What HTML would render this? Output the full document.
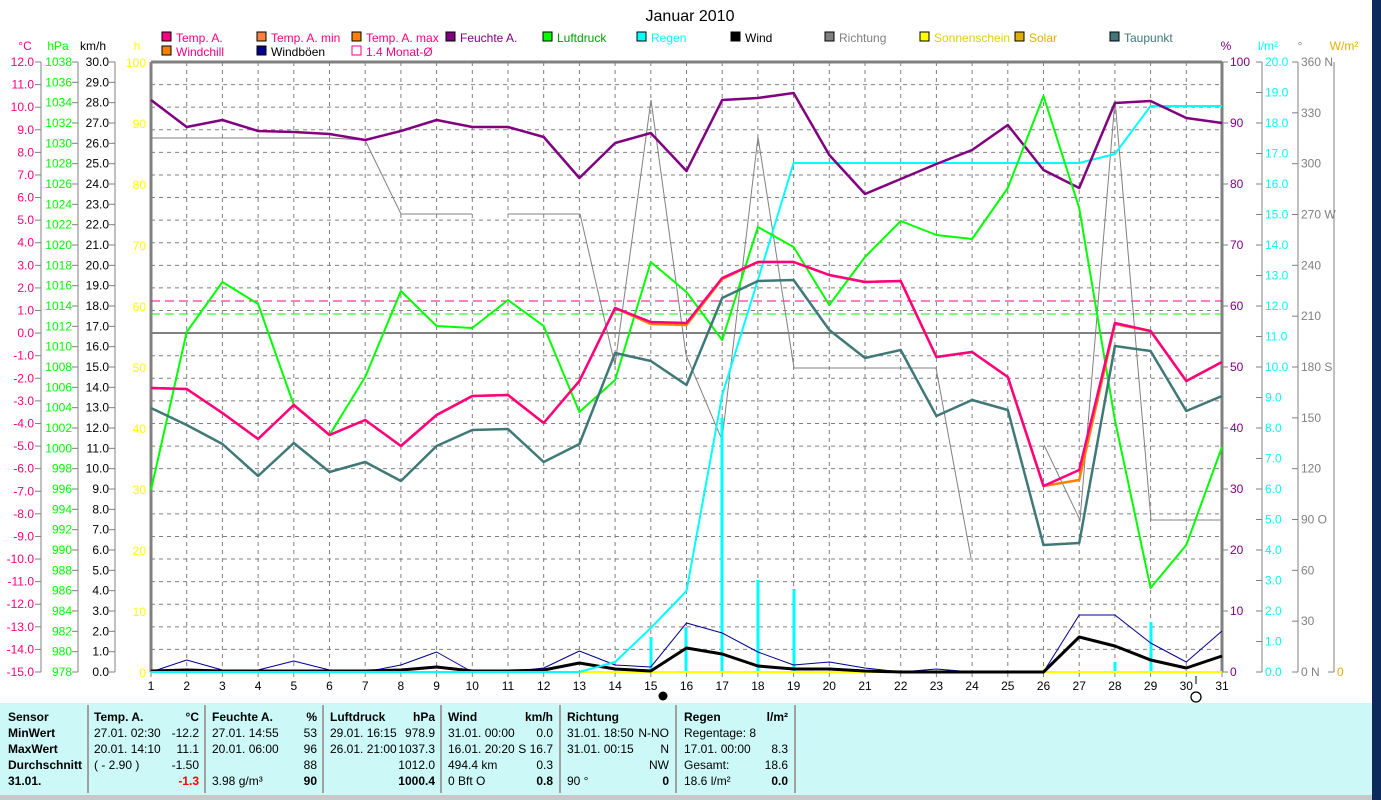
<!DOCTYPE html>
<html><head><meta charset="utf-8"><style>
html,body{margin:0;padding:0;background:#fff;width:1381px;height:800px;overflow:hidden;font-family:"Liberation Sans",sans-serif}
svg{position:absolute;left:0;top:0}
</style></head><body>
<svg id="s" width="1381" height="800" xmlns="http://www.w3.org/2000/svg" font-family="Liberation Sans, sans-serif" font-size="12"></svg>
<script>
const S=document.getElementById('s');let h='';
const X=d=>151+(d-1)*35.7;
const L=(x1,y1,x2,y2,c,w,da)=>h+=`<line x1="${x1}" y1="${y1}" x2="${x2}" y2="${y2}" stroke="${c}" stroke-width="${w||1}" ${da?`stroke-dasharray="${da}"`:''}/>`;
const T=(x,y,t,c,a,extra)=>h+=`<text x="${x}" y="${y}" fill="${c}" text-anchor="${a||'start'}" ${extra||''}>${t}</text>`;
const P=(ys,c,w)=>h+=`<polyline fill="none" stroke="${c}" stroke-width="${w}" stroke-linejoin="round" points="${ys.map((y,i)=>X(i+1)+','+y).join(' ')}"/>`;
h+=`<rect x="1372" y="0" width="9" height="800" fill="#0c2a5c"/>`;
T(690,21,'Januar 2010','#000','middle','font-size="16"');
for(let i=1;i<27;i++){let y=62+i*610/27;L(151,y,1222,y,'#808080',1,'4 4');}
for(let d=2;d<=30;d++)L(X(d),62,X(d),672,'#808080',1,'4 4');
L(151,62,1222,62,'#808080',3);L(151,62,151,672,'#808080',3);L(1222,62,1222,672,'#808080',3);
// left axes
L(41,62,41,672,'#808080');L(78,62,78,672,'#808080');L(115,62,115,672,'#808080');
T(25,50,'°C','#ff0080','middle');T(58,50,'hPa','#00ff00','middle');T(93,50,'km/h','#000','middle');T(137,50,'h','#ffff00','middle');
for(let i=0;i<=27;i++){let y=62+i*610/27;L(35,y,41,y,'#808080');T(34,y+4,(12-i).toFixed(1),'#ff0080','end');}
for(let i=0;i<=30;i++){let y=62+i*610/30;L(72,y,78,y,'#808080');T(72,y+4,1038-2*i,'#00ff00','end');
 L(109,y,115,y,'#808080');T(109,y+4,(30-i).toFixed(1),'#000','end');}
for(let i=0;i<=10;i++){let y=62+i*61;T(146,y+5,100-10*i,'#ffff00','end');}
// right axes
L(1262,62,1262,672,'#808080');L(1298,62,1298,672,'#808080');L(1334,62,1334,672,'#808080');
T(1226,50,'%','#800080','middle');T(1268,50,'l/m²','#00ffff','middle');T(1300,50,'°','#808080','middle');T(1344,50,'W/m²','#e0b000','middle');
for(let i=0;i<=10;i++){let y=62+i*61;L(1222,y,1228,y,'#808080');T(1230,y+4,100-10*i,'#800080');}
for(let i=0;i<=20;i++){let y=62+i*30.5;L(1256,y,1262,y,'#808080');T(1265,y+4,(20-i).toFixed(1),'#00ffff');}
const dn={360:'360 N',270:'270 W',180:'180 S',90:'90 O',0:'0 N'};
for(let i=0;i<=12;i++){let y=62+i*610/12,v=360-30*i;L(1292,y,1298,y,'#808080');T(1301,y+4,dn[v]||v,'#808080');}
L(1328,672,1334,672,'#808080');T(1337,676,'0','#e0b000');
for(let d=1;d<=31;d++){L(X(d),672,X(d),677,'#808080');T(X(d),690,d,'#000','middle');}
h+=`<circle cx="663" cy="696" r="4.5" fill="#000"/><circle cx="1196" cy="697" r="5" fill="none" stroke="#000" stroke-width="1.3"/>`;L(1196,676,1196,684,'#000');
// ref lines
L(151,333,1222,333,'#808080',2);
L(151,301,1222,301,'#ff0080',1,'9 5');L(151,314,1222,314,'#00ff00',1,'9 5');
// richtung
h+=`<polyline fill="none" stroke="#808080" stroke-width="1" points="151,138 330,138 365,140 401,214 472,214"/>`;
h+=`<polyline fill="none" stroke="#808080" stroke-width="1" points="508,214 580,214 615,365 651,100 686,355 722,440 758,137 794,368 936,368 971,558"/>`;
h+=`<polyline fill="none" stroke="#808080" stroke-width="1" points="1044,445 1080,520 1115,100 1151,520 1222,520"/>`;
[[651,637],[686,627],[722,418],[758,580],[794,589],[1115,662],[1151,622]].forEach(b=>L(b[0],b[1],b[0],672,'#00ffff',3));
L(151,672,1222,672,'#ffff00',2);
P([672,660,670,670,661,670,672,665,652,672,672,668,651,665,667,623,633,652,665,662,668,672,669,672,672,672,615,615,643,662,631],'#000090',1);
P([671,670,671,671,671,671,671,670,667,671,671,670,663,669,671,648,654,666,669,669,671,672,672,672,672,672,637,646,660,668,656],'#000',3);
P([672,672,672,672,672,672,672,672,672,672,672,672,672,662,628,591,395,280,163,163,163,163,163,163,163,163,163,154,106,106,106],'#00ffff',2);
P([100,127,120,131,132,134,140,131,120,127,127,137,178,143,133,171,100,98,93,155,194,179,164,150,125,170,188,103,101,118,123],'#800080',2.5);
P([490,332,282,304,405,435,377,291,326,328,300,326,412,380,262,292,340,227,247,305,257,221,235,239,188,96,208,420,588,545,447],'#00ff00',2);
P([408,425,444,476,443,472,462,481,446,430,429,462,444,353,361,385,298,281,280,330,358,350,416,400,410,545,543,346,351,411,396],'#407878',2.5);
P([388,389,413,439,405,435,420,446,415,396,395,423,381,308,324,325,279,262,262,275,282,281,357,352,377,486,480,324,331,381,362],'#ff8000',2.5);
P([388,389,413,439,405,435,420,446,415,396,395,423,381,308,322,323,278,262,262,275,282,281,357,352,377,486,470,323,331,381,362],'#ff0080',2.5);
const lg=[[162,'#ff0080','Temp. A.','#ff0080'],[257,'#ff8040','Temp. A. min','#ff0080'],[352,'#ff8000','Temp. A. max','#ff0080'],[446,'#800080','Feuchte A.','#800080'],[543,'#00ff00','Luftdruck','#00a000'],[637,'#00ffff','Regen','#00ffff'],[731,'#000','Wind','#000'],[825,'#808080','Richtung','#808080'],[920,'#ffff00','Sonnenschein','#e0d000'],[1015,'#e0b000','Solar','#e0b000'],[1110,'#407878','Taupunkt','#407878']];
lg.forEach(l=>{h+=`<rect x="${l[0]}" y="32" width="9" height="9" fill="${l[1]}" stroke="#000"/>`;T(l[0]+14,42,l[2],l[3]);});
h+=`<rect x="162" y="46" width="9" height="9" fill="#ff8000" stroke="#000"/>`;T(176,56,'Windchill','#ff0080');
h+=`<rect x="257" y="46" width="9" height="9" fill="#000090" stroke="#000"/>`;T(271,56,'Windböen','#000');
h+=`<rect x="352" y="46" width="9" height="9" fill="none" stroke="#ff0080"/>`;T(366,56,'1.4 Monat-Ø','#ff0080');
h+=`<rect x="0" y="703" width="1372" height="92" fill="#ccf8f8"/><rect x="0" y="795" width="1372" height="5" fill="#c8c8c8"/>`;
[88,205,323,441,560,676,795].forEach(x=>L(x,705,x,793,'#a0a0a0',2));
const rows=[717,733,749,765,781];
const B='font-weight="bold"';
['Sensor','MinWert','MaxWert','Durchschnitt','31.01.'].forEach((t,i)=>T(8,rows[i]+4,t,'#000','start',B));
const col=(xl,xr,L1,R1)=>{L1.forEach((t,i)=>t&&T(xl,rows[i]+4,t,'#000','start',i==0?B:''));R1.forEach((t,i)=>t&&T(xr,rows[i]+4,t,i==4&&xl==94?'#ff0000':'#000','end',(i==0||i==4)?B:''));};
col(94,199,['Temp. A.','27.01.  02:30','20.01.  14:10','  ( - 2.90 )',''],['°C','-12.2','11.1','-1.50','-1.3']);
col(212,317,['Feuchte A.','27.01.  14:55','20.01.  06:00','','3.98 g/m³'],['%','53','96','88','90']);
col(330,435,['Luftdruck','29.01.  16:15','26.01.  21:00','',''],['hPa','978.9','1037.3','1012.0','1000.4']);
col(448,553,['Wind','31.01.  00:00','16.01.  20:20','494.4 km',' 0 Bft O'],['km/h','0.0','S 16.7','0.3','0.8']);
col(567,669,['Richtung','31.01.  18:50','31.01.  00:15','',' 90 °'],['','N-NO','N','NW','0']);
col(684,788,['Regen','Regentage: 8','17.01.  00:00','Gesamt:',' 18.6 l/m²'],['l/m²','','8.3','18.6','0.0']);
S.innerHTML=h;
</script>
</body></html>
